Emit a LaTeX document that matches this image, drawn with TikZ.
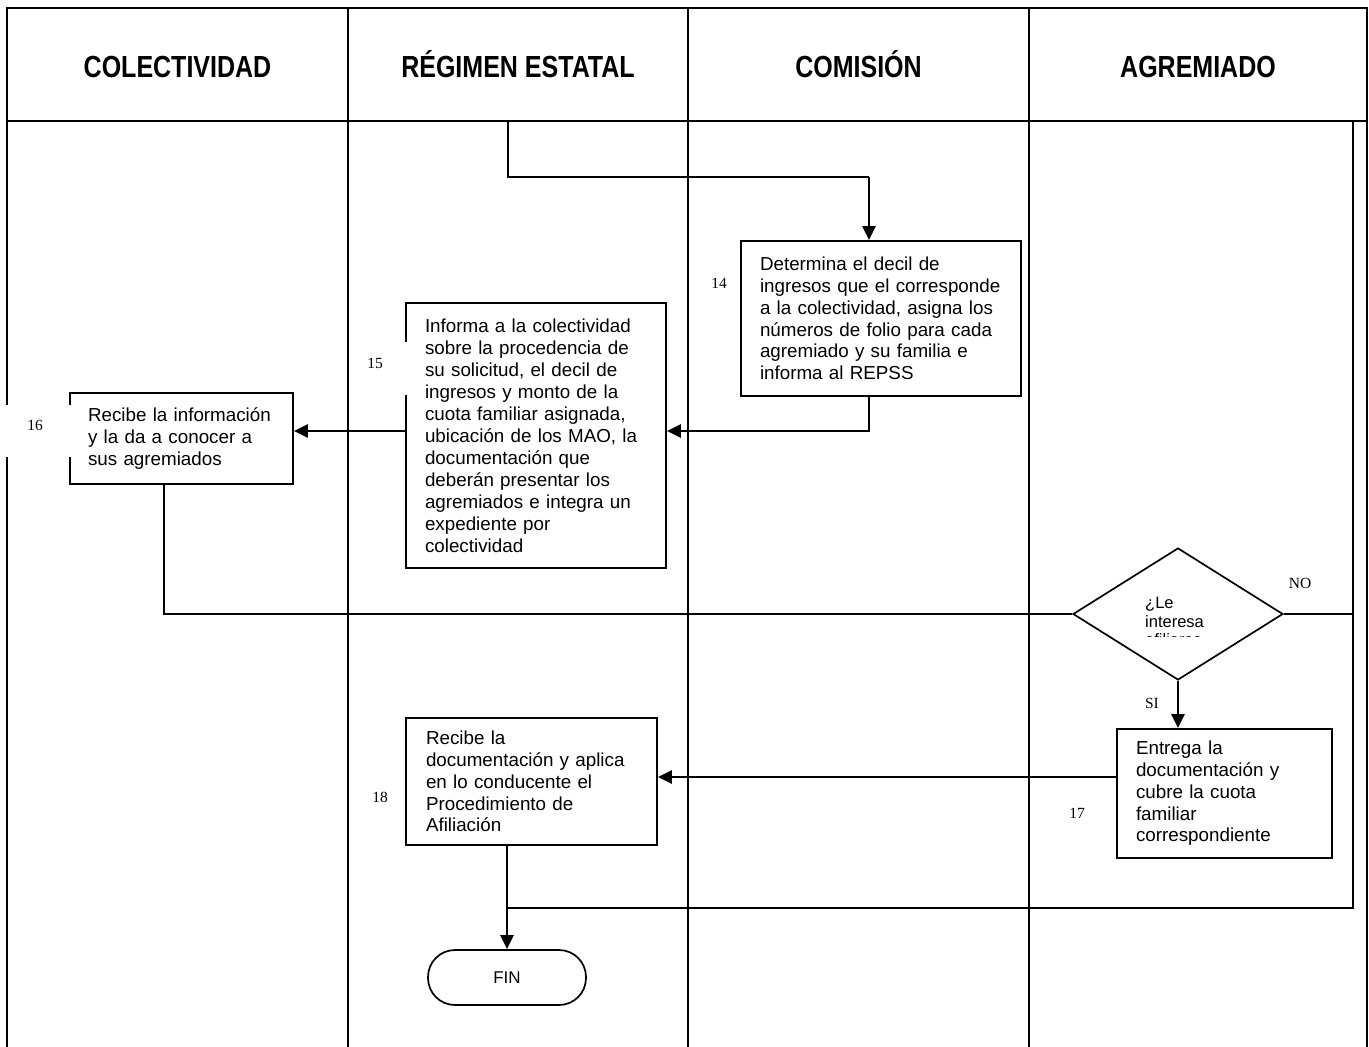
\documentclass[tikz,border=0pt]{standalone}
\usepackage{fontspec}
\usepackage{graphicx}
\setmainfont{Liberation Sans}
\newfontfamily\numfont{Liberation Serif}
\usetikzlibrary{arrows.meta,shapes.geometric}

\tikzset{
  frame/.style={line width=2.3pt, line cap=rect},
  lanehead/.style={font=\fontsize{30.5}{34}\selectfont\bfseries, inner sep=0pt, anchor=base},
  stepbox/.style={draw, line width=1.8pt, rectangle, align=left, inner ysep=0pt,
                  font=\fontsize{18.8}{21.8}\selectfont},
  decision/.style={draw, line width=1.7pt, diamond, inner sep=0pt},
  endbox/.style={draw, line width=1.7pt, rectangle, rounded corners=27pt,
                 font=\fontsize{17}{20}\selectfont, inner sep=0pt},
  numlabel/.style={font=\numfont\fontsize{15.5}{18}\selectfont, inner sep=0pt},
  cover/.style={fill=white, inner sep=0pt},
  flow/.style={line width=1.6pt},
  thickflow/.style={line width=2.5pt},
  tip/.style={-{Triangle[length=14pt,width=13pt]}},
}
\newcommand{\narrowhead}[1]{\scalebox{0.82}[1]{#1}}

\begin{document}
\begin{tikzpicture}[x=1pt,y=-1pt]
\useasboundingbox (0,0) rectangle (1369,1047);

% swimlane frame
\draw[frame] (7,1047) -- (7,8) -- (1367,8) -- (1367,1047);
\draw[frame] (7,121) -- (1367,121);
\foreach \xx in {348,688,1029} \draw[frame] (\xx,8) -- (\xx,1047);

% lane titles
\node[lanehead] (hcol) at (177.5,77) {\narrowhead{COLECTIVIDAD}};
\node[lanehead] (hreg) at (518,77) {\narrowhead{RÉGIMEN ESTATAL}};
\node[lanehead] (hcom) at (858.5,77) {\narrowhead{COMISIÓN}};
\node[lanehead] (hagr) at (1198,77) {\narrowhead{AGREMIADO}};

% activity boxes
\node[stepbox, minimum width=280pt, minimum height=155pt, text width=242pt, inner xsep=19pt]
  (b14) at (881,318.5)
  {Determina el decil de\\ingresos que el corresponde\\a la colectividad, asigna los\\números de folio para cada\\agremiado y su familia e\\informa al REPSS};
\node[stepbox, minimum width=260pt, minimum height=265pt, text width=222pt, inner xsep=19pt,
      font=\fontsize{18.8}{22}\selectfont]
  (b15) at (536,435.5)
  {Informa a la colectividad\\sobre la procedencia de\\su solicitud, el decil de\\ingresos y monto de la\\cuota familiar asignada,\\ubicación de los MAO, la\\documentación que\\deberán presentar los\\agremiados e integra un\\expediente por\\colectividad};
\node[stepbox, minimum width=223pt, minimum height=91pt, text width=187pt, inner xsep=18pt]
  (b16) at (181.5,438.5)
  {Recibe la información\\y la da a conocer a\\sus agremiados};
\node[stepbox, minimum width=215pt, minimum height=129pt, text width=177pt, inner xsep=19pt]
  (b17) at (1224.5,793.5)
  {Entrega la\\documentación y\\cubre la cuota\\familiar\\correspondiente};
\node[stepbox, minimum width=251pt, minimum height=127pt, text width=211pt, inner xsep=20pt]
  (b18) at (531.5,781.5)
  {Recibe la\\documentación y aplica\\en lo conducente el\\Procedimiento de\\Afiliación};

% decision
\node[decision, minimum width=210pt, minimum height=132pt] (dia) at (1178,614) {};
\begin{scope}
  \clip (1138,588) rectangle (1222,636);
  \node[anchor=north west, inner sep=0pt, align=left, font=\fontsize{16.5}{18.5}\selectfont]
    (q) at (1145,597) {¿Le\\interesa\\afiliarse};
\end{scope}

% end
\node[endbox, minimum width=158pt, minimum height=55pt] (fin) at (507,977.5) {FIN};

% junction points of the connectors
\coordinate (start) at (508,121);
\coordinate (c14in) at (869,177);
\coordinate (c14out) at (869,431);
\coordinate (c16) at (164,614);
\coordinate (c17) at (1117,777);
\coordinate (rail) at (1353,121);
\coordinate (merge) at (508,908);

% connectors
\draw[flow] (start) |- (c14in);
\draw[thickflow, tip] (c14in) -- (c14in |- b14.north);
\draw[thickflow, tip] (c14out |- b14.south) -- (c14out) -- (c14out -| b15.east);
\draw[thickflow, tip] (b15.west |- c14out) -- (b16.east |- c14out);
\draw[flow] (c16 |- b16.south) -- (c16) -- (dia.west);
\draw[thickflow, tip] (dia.south) -- (dia.south |- b17.north);
\draw[flow] (dia.east) -- (dia.east -| rail);
\draw[flow] (rail) -- (rail |- merge) -- (merge);
\draw[thickflow, tip] (c17) -- (c17 -| b18.east);
\draw[thickflow, tip] (b18.south -| fin.north) -- (fin.north);

% step numbers and branch labels
\node[cover, minimum width=54pt, minimum height=53pt] (m15) at (382,368.5) {};
\node[cover, minimum width=70pt, minimum height=52pt] (m16) at (38,431) {};
\node[numlabel] (l14) at (719,283) {14};
\node[numlabel] (l15) at (375,363) {15};
\node[numlabel] (l16) at (35,425) {16};
\node[numlabel] (l17) at (1077,813) {17};
\node[numlabel] (l18) at (380,797) {18};
\node[numlabel] (lno) at (1300,583) {NO};
\node[numlabel] (lsi) at (1152,703) {SI};
\end{tikzpicture}
\end{document}
